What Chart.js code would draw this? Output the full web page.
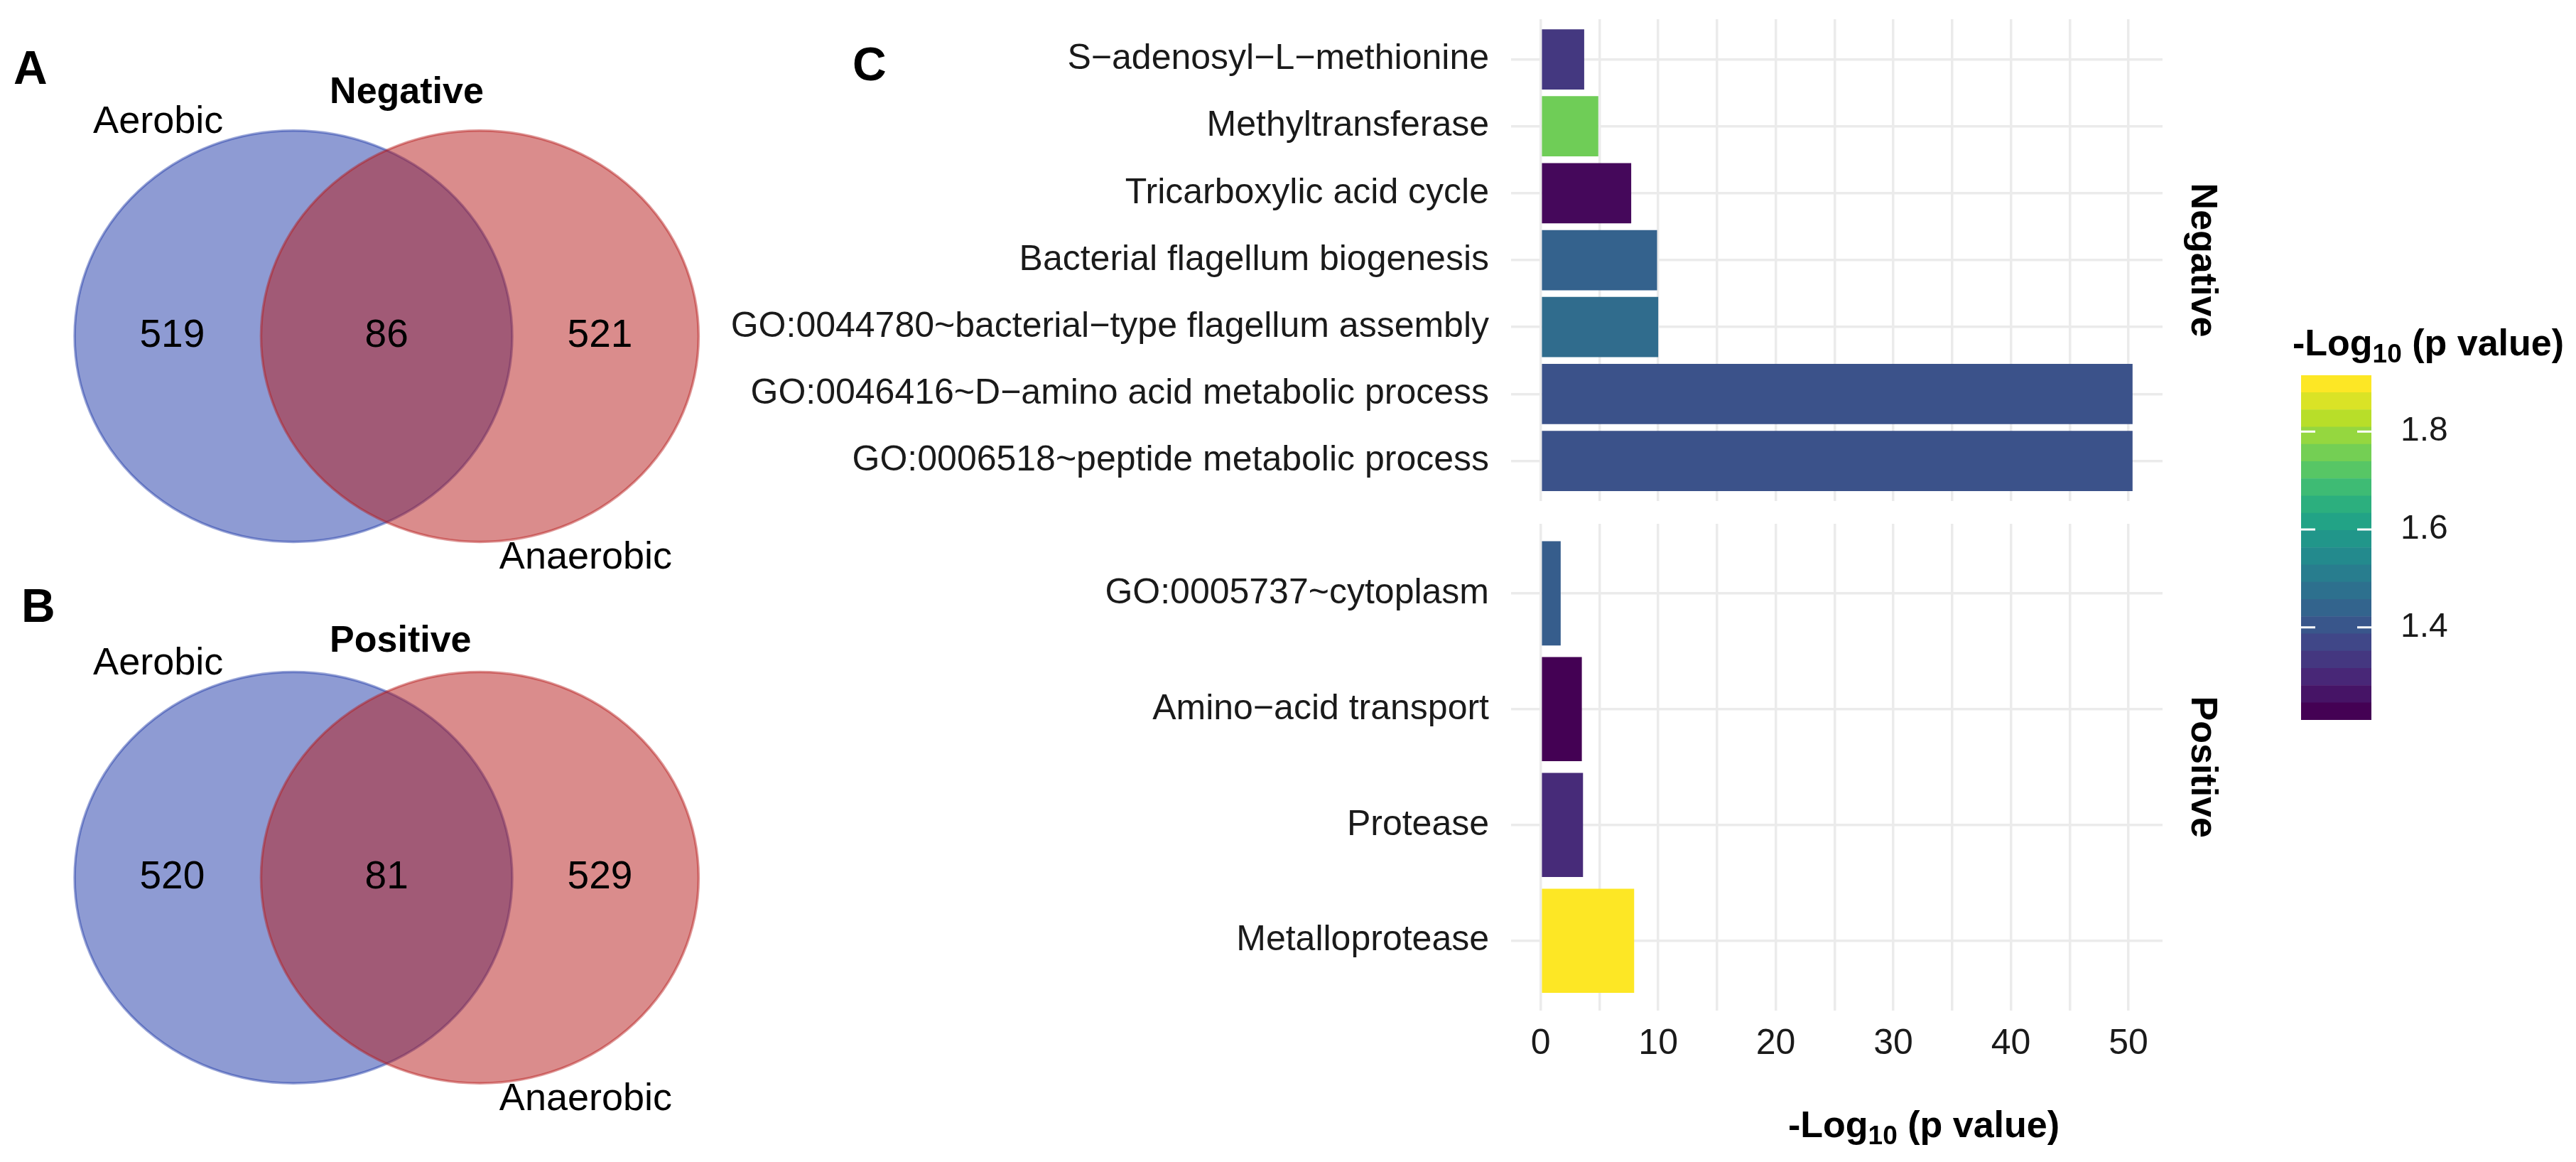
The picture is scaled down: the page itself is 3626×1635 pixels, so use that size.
<!DOCTYPE html>
<html>
<head>
<meta charset="utf-8">
<script src="https://cdn.jsdelivr.net/npm/chart.js@4.4.1/dist/chart.umd.min.js"></script>
<style>
body { margin: 0; background: #fff; }
#page { position: relative; width: 3626px; height: 1635px; overflow: hidden; font-family: 'Liberation Sans', Arial, sans-serif; }
canvas { position: absolute; }
.tag { position: absolute; font-weight: bold; font-size: 66px; line-height: 1; color: #000; }
</style>
</head>
<body>
<div id="page">
  <canvas id="vennA" width="1000" height="820" style="left:0;top:0"></canvas>
  <canvas id="vennB" width="1000" height="815" style="left:0;top:820px"></canvas>
  <canvas id="barNeg" width="2200" height="730" style="left:1000px;top:0"></canvas>
  <canvas id="barPos" width="2200" height="905" style="left:1000px;top:730px"></canvas>
  <canvas id="colorbar" width="426" height="700" style="left:3200px;top:400px"></canvas>
  <div class="tag" style="left:19px;top:62px">A</div>
  <div class="tag" style="left:30px;top:819px">B</div>
  <div class="tag" style="left:1200px;top:57px">C</div>
</div>
<script>
// Venn counts: [only Aerobic, both, only Anaerobic]
const vennSets = ['Aerobic', 'Anaerobic'];
const vennNegCounts = [519, 86, 521];
const vennPosCounts = [520, 81, 529];

// enrichment terms (top to bottom)
const negTerms = [
    'S\u2212adenosyl\u2212L\u2212methionine',
    'Methyltransferase',
    'Tricarboxylic acid cycle',
    'Bacterial flagellum biogenesis',
    'GO:0044780~bacterial\u2212type flagellum assembly',
    'GO:0046416~D\u2212amino acid metabolic process',
    'GO:0006518~peptide metabolic process'
];
const negValues = [3.7, 4.9, 7.7, 9.9, 10.0, 50.35, 50.35];
const negColorValues = [1.324, 1.76, 1.225, 1.429, 1.457, 1.387, 1.387];

const posTerms = [
    'GO:0005737~cytoplasm',
    'Amino\u2212acid transport',
    'Protease',
    'Metalloprotease'
];
const posValues = [1.7, 3.5, 3.6, 7.95];
const posColorValues = [1.415, 1.211, 1.295, 1.915];

const xTicks = [0, 5, 10, 15, 20, 25, 30, 35, 40, 45, 50];
const legendTicks = [1.4, 1.6, 1.8];
const colorMin = 1.211;
const colorMax = 1.915;

// viridis(11)
const viridisStops = ['#440154', '#482576', '#414487', '#35608D', '#2A788E', '#21908C',
    '#22A884', '#43BF71', '#7AD151', '#BBDF27', '#FDE725'];

const FONT = '"Liberation Sans", Arial, sans-serif';
Chart.defaults.font.family = FONT;
Chart.defaults.color = '#1a1a1a';

function hexRgb(h) {
    return [parseInt(h.slice(1, 3), 16), parseInt(h.slice(3, 5), 16), parseInt(h.slice(5, 7), 16)];
}

function viridisT(t) {
    t = Math.max(0, Math.min(1, t));
    const p = t * (viridisStops.length - 1);
    const i = Math.min(Math.floor(p), viridisStops.length - 2);
    const f = p - i;
    const a = hexRgb(viridisStops[i]), b = hexRgb(viridisStops[i + 1]);
    const c = a.map((v, k) => Math.round(v + (b[k] - v) * f));
    return 'rgb(' + c.join(',') + ')';
}

function viridisAt(v) {
    return viridisT((v - colorMin) / (colorMax - colorMin));
}

// "-Log10 (p value)" with subscript, left aligned at baseline
function drawLogTitle(ctx, x, y, size) {
    const big = 'bold ' + size + 'px ' + FONT;
    const small = 'bold ' + Math.round(size * 0.72) + 'px ' + FONT;
    const parts = [['-Log', big, 0], ['10', small, size * 0.2], [' (p value)', big, 0]];
    ctx.save();
    ctx.fillStyle = '#000';
    ctx.textAlign = 'left';
    ctx.textBaseline = 'alphabetic';
    let cx = x;
    parts.forEach(p => {
        ctx.font = p[1];
        ctx.fillText(p[0], cx, y + p[2]);
        cx += ctx.measureText(p[0]).width;
    });
    ctx.restore();
}

// keep the panel exactly where the layout padding puts it
function noPad(s) {
    s.paddingTop = 0;
    s.paddingBottom = 0;
    s.paddingLeft = 0;
    s.paddingRight = 0;
}

// ---------- Venn diagrams ----------
const vennPlugin = {
    id: 'venn',
    beforeDatasetsDraw(chart, args, opts) {
        const { ctx } = chart;
        const x = chart.scales.x, y = chart.scales.y;
        const fills = ['rgba(29,55,167,0.5)', 'rgba(181,25,25,0.5)'];
        const strokes = ['rgba(29,55,167,0.45)', 'rgba(181,25,25,0.45)'];
        chart.data.datasets[0].data.forEach((c, i) => {
            const cx = x.getPixelForValue(c.x);
            const cy = y.getPixelForValue(c.y);
            const rx = Math.abs(x.getPixelForValue(c.x + 1) - cx);
            const ry = Math.abs(y.getPixelForValue(c.y + 1) - cy);
            ctx.save();
            ctx.beginPath();
            ctx.ellipse(cx, cy, rx, ry, 0, 0, Math.PI * 2);
            ctx.fillStyle = fills[i];
            ctx.fill();
            ctx.lineWidth = 3.5;
            ctx.strokeStyle = strokes[i];
            ctx.stroke();
            ctx.restore();
        });
    },
    afterDatasetsDraw(chart, args, opts) {
        const { ctx } = chart;
        const x = chart.scales.x, y = chart.scales.y;
        ctx.save();
        ctx.fillStyle = '#000';
        ctx.textBaseline = 'middle';
        ctx.textAlign = 'center';
        ctx.font = '55px ' + FONT;
        const countX = [-0.98, 0, 0.975];
        opts.counts.forEach((n, i) => {
            ctx.fillText(String(n), x.getPixelForValue(countX[i]), y.getPixelForValue(0));
        });
        ctx.font = '54px ' + FONT;
        ctx.fillText(vennSets[0], x.getPixelForValue(-1.044), y.getPixelForValue(1.04));
        ctx.fillText(vennSets[1], x.getPixelForValue(0.91), y.getPixelForValue(-1.078));
        ctx.font = 'bold 52px ' + FONT;
        ctx.textAlign = 'left';
        ctx.fillText(opts.title, x.getPixelForValue(-0.26), y.getPixelForValue(opts.titleY));
        ctx.restore();
    }
};

function makeVenn(id, counts, title, titleY, yMin, yMax) {
    return new Chart(document.getElementById(id), {
        type: 'scatter',
        data: {
            datasets: [{
                data: [{ x: -0.426, y: 0 }, { x: 0.426, y: 0 }],
                pointRadius: 0
            }]
        },
        options: {
            responsive: false,
            animation: false,
            devicePixelRatio: 1,
            layout: { padding: 0 },
            plugins: {
                legend: { display: false },
                tooltip: { enabled: false },
                venn: { counts: counts, title: title, titleY: titleY }
            },
            scales: {
                x: { display: false, min: -1.767, max: 1.480 },
                y: { display: false, min: yMin, max: yMax }
            }
        },
        plugins: [vennPlugin]
    });
}

makeVenn('vennA', vennNegCounts, 'Negative', 1.182, -1.199, 1.635);
makeVenn('vennB', vennPosCounts, 'Positive', 1.148, -1.383, 1.434);

// ---------- bar panels ----------
const stripPlugin = {
    id: 'strip',
    afterDraw(chart, args, opts) {
        if (!opts.text) return;
        const { ctx, chartArea } = chart;
        ctx.save();
        ctx.translate(chartArea.right + 55, (chartArea.top + chartArea.bottom) / 2);
        ctx.rotate(Math.PI / 2);
        ctx.font = 'bold 52px ' + FONT;
        ctx.fillStyle = '#000';
        ctx.textAlign = 'center';
        ctx.textBaseline = 'middle';
        ctx.fillText(opts.text, 0, 0);
        ctx.restore();
    }
};

const axisTitlePlugin = {
    id: 'axisTitle',
    afterDraw(chart, args, opts) {
        if (!opts.show) return;
        const { ctx, chartArea } = chart;
        drawLogTitle(ctx, chartArea.left + 390, chartArea.bottom + 178, 52);
    }
};

function makeBarChart(id, terms, values, colorValues, cfg) {
    return new Chart(document.getElementById(id), {
        type: 'bar',
        data: {
            datasets: [{
                data: values.map((v, i) => ({ x: v, y: i + 1 })),
                backgroundColor: colorValues.map(viridisAt),
                borderWidth: 0,
                barPercentage: 0.9,
                categoryPercentage: 1
            }]
        },
        options: {
            indexAxis: 'y',
            responsive: false,
            animation: false,
            devicePixelRatio: 1,
            layout: { padding: cfg.padding },
            plugins: {
                legend: { display: false },
                tooltip: { enabled: false },
                strip: { text: cfg.strip },
                axisTitle: { show: cfg.showX }
            },
            scales: {
                x: {
                    type: 'linear',
                    min: -2.52,
                    max: 52.9,
                    offset: false,
                    afterBuildTicks: s => { s.ticks = xTicks.map(v => ({ value: v })); },
                    afterFit: s => { s.height = cfg.xAxisHeight; noPad(s); },
                    grid: { color: '#ebebeb', lineWidth: 3.5, drawTicks: false, offset: false },
                    border: { display: false },
                    ticks: {
                        display: cfg.showX,
                        autoSkip: false,
                        maxRotation: 0,
                        padding: 18,
                        font: { size: 50 },
                        color: '#1a1a1a',
                        callback: v => (v % 10 === 0 ? String(v) : '')
                    }
                },
                y: {
                    type: 'linear',
                    reverse: true,
                    min: 0.4,
                    max: terms.length + 0.6,
                    offset: false,
                    afterBuildTicks: s => { s.ticks = terms.map((t, i) => ({ value: i + 1 })); },
                    afterFit: s => { s.width = 1127; noPad(s); },
                    grid: { color: '#ebebeb', lineWidth: 3.5, drawTicks: false, offset: false },
                    border: { display: false },
                    ticks: {
                        autoSkip: false,
                        padding: 31,
                        font: { size: 50 },
                        color: '#1a1a1a',
                        callback: v => terms[Math.round(v) - 1]
                    }
                }
            }
        },
        plugins: [stripPlugin, axisTitlePlugin]
    });
}

makeBarChart('barNeg', negTerms, negValues, negColorValues, {
    padding: { top: 27, bottom: 25, left: 0, right: 156 },
    xAxisHeight: 0,
    showX: false,
    strip: 'Negative'
});

makeBarChart('barPos', posTerms, posValues, posColorValues, {
    padding: { top: 7, bottom: 93.5, left: 0, right: 156 },
    xAxisHeight: 120,
    showX: true,
    strip: 'Positive'
});

// ---------- colour bar legend ----------
const nBins = 20;
const binStep = (colorMax - colorMin) / nBins;
const bins = [];
for (let i = 0; i < nBins; i++) {
    bins.push({
        lo: colorMin + i * binStep,
        hi: colorMin + (i + 1) * binStep,
        color: viridisT(i / (nBins - 1))
    });
}

const colorbarPlugin = {
    id: 'colorbarMarks',
    afterDatasetsDraw(chart) {
        const { ctx, chartArea } = chart;
        const y = chart.scales.y;
        ctx.save();
        ctx.strokeStyle = '#fff';
        ctx.lineWidth = 3;
        legendTicks.forEach(t => {
            const py = y.getPixelForValue(t);
            ctx.beginPath();
            ctx.moveTo(chartArea.left, py);
            ctx.lineTo(chartArea.left + 20, py);
            ctx.moveTo(chartArea.right - 20, py);
            ctx.lineTo(chartArea.right, py);
            ctx.stroke();
        });
        ctx.restore();
    },
    afterDraw(chart) {
        drawLogTitle(chart.ctx, 27, 100, 52);
    }
};

new Chart(document.getElementById('colorbar'), {
    type: 'bar',
    data: {
        labels: [''],
        datasets: bins.map(b => ({
            data: [[b.lo, b.hi]],
            backgroundColor: b.color,
            borderWidth: 0,
            barPercentage: 1,
            categoryPercentage: 1,
            grouped: false
        }))
    },
    options: {
        responsive: false,
        animation: false,
        devicePixelRatio: 1,
        layout: { padding: { left: 39, top: 128, bottom: 87, right: 0 } },
        plugins: { legend: { display: false }, tooltip: { enabled: false } },
        scales: {
            x: { display: false },
            y: {
                position: 'right',
                min: colorMin,
                max: colorMax,
                afterBuildTicks: s => { s.ticks = legendTicks.map(v => ({ value: v })); },
                afterFit: s => { s.width = 288; },
                grid: { display: false },
                border: { display: false },
                ticks: {
                    padding: 33,
                    font: { size: 48 },
                    color: '#1a1a1a',
                    callback: v => v.toFixed(1)
                }
            }
        }
    },
    plugins: [colorbarPlugin]
});
</script>
</body>
</html>
